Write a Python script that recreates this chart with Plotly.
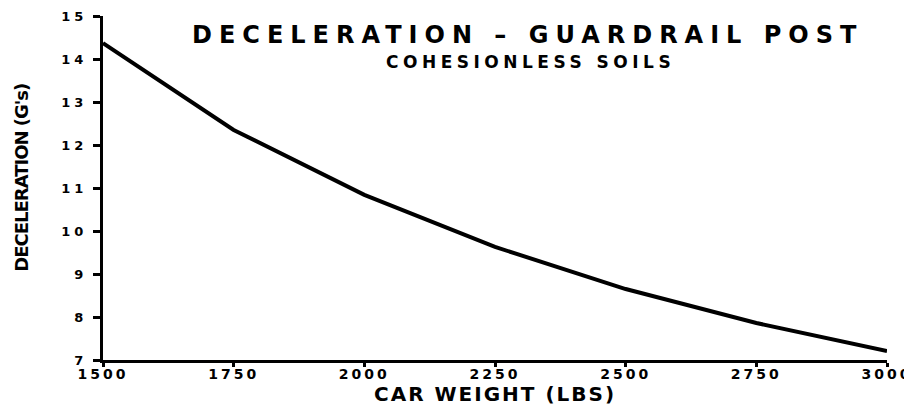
import plotly.graph_objects as go

# values
car_weight = [1500, 1750, 2000, 2250, 2500, 2750, 3000]
deceleration = [14.37, 12.35, 10.84, 9.63, 8.65, 7.86, 7.21]

x_ticks = [1500, 1750, 2000, 2250, 2500, 2750, 3000]
y_ticks = [7, 8, 9, 10, 11, 12, 13, 14, 15]


def spaced(s, px):
    return f'<span style="letter-spacing:{px}px">{s}</span>'


fig = go.Figure()
fig.add_trace(go.Scatter(
    x=car_weight,
    y=deceleration,
    mode="lines",
    line=dict(color="black", width=4),
    showlegend=False,
))

axis_common = dict(
    showline=True, linecolor="black", linewidth=3,
    showgrid=False, zeroline=False, automargin=False,
    ticks="outside", tickcolor="black", tickwidth=3,
    ticklabeloverflow="allow",
)

fig.update_xaxes(
    range=[1500, 3000],
    tickvals=x_ticks,
    ticktext=[spaced(t, 3) for t in x_ticks],
    ticklen=4,
    ticklabelstandoff=-5,
    tickfont=dict(family="DejaVu Sans", size=14, color="black", weight="bold"),
    **axis_common,
)
fig.update_yaxes(
    range=[7, 15],
    tickvals=y_ticks,
    ticktext=[spaced(t, 4) for t in y_ticks],
    ticklen=7,
    ticklabelstandoff=3,
    tickfont=dict(family="DejaVu Sans", size=13, color="black", weight="bold"),
    **axis_common,
)

bold = dict(family="DejaVu Sans", color="black", weight="bold")

fig.add_annotation(
    text=spaced("DECELERATION – GUARDRAIL POST", 7),
    xref="paper", yref="paper", x=0.541, y=0.945,
    xanchor="center", yanchor="middle", showarrow=False,
    font=dict(size=24, **bold),
)
fig.add_annotation(
    text=spaced("COHESIONLESS SOILS", 4.5),
    xref="paper", yref="paper", x=0.545, y=0.867,
    xanchor="center", yanchor="middle", showarrow=False,
    font=dict(size=17, **bold),
)
fig.add_annotation(
    text=spaced("CAR WEIGHT (LBS)", 2),
    xref="paper", yref="paper", x=0.5, y=-0.099,
    xanchor="center", yanchor="middle", showarrow=False,
    font=dict(size=20, **bold),
)
fig.add_annotation(
    text=spaced("DECELERATION (G's)", -1),
    xref="paper", yref="paper", x=-0.105, y=0.529,
    xanchor="center", yanchor="middle", showarrow=False, textangle=-90,
    font=dict(size=18, **bold),
)

# the page body keeps its default 8px margin, so the figure is sized
# and offset to land where the scan has it
fig.update_layout(
    width=904, height=398,
    margin=dict(l=95, r=25, t=8, b=46, autoexpand=False),
    paper_bgcolor="white",
    plot_bgcolor="white",
)

fig.write_html("out.html")
